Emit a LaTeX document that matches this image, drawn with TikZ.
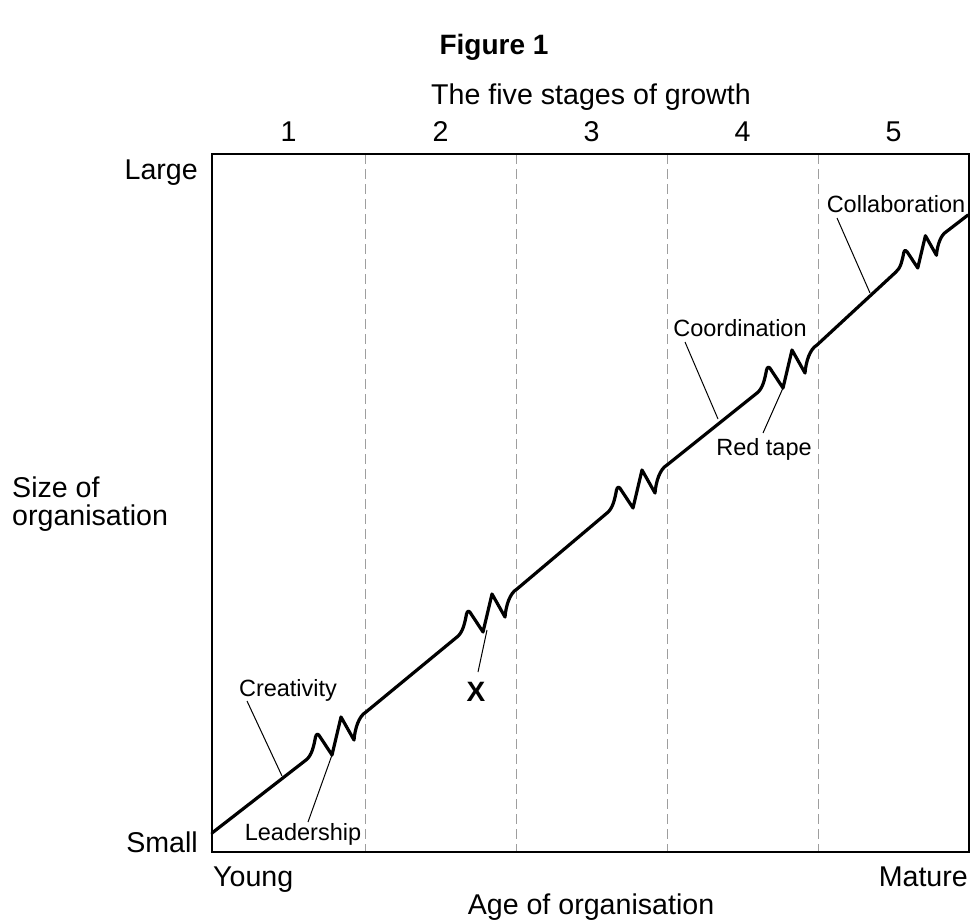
\documentclass[tikz,border=0pt]{standalone}
\usepackage{fontspec}
\setmainfont{Liberation Sans}
\usetikzlibrary{calc}
\tikzset{
  frame/.style={line width=2.5pt},
  stagediv/.style={line width=1pt, draw=black!38, dash pattern=on 10pt off 5pt},
  growth/.style={line width=3.2pt, line cap=round, line join=round},
  leader/.style={line width=1pt},
  big/.style={font=\fontsize{28.6}{32}\selectfont, inner sep=0pt},
  small/.style={font=\fontsize{23.5}{27}\selectfont, inner sep=0pt},
}
\newcommand\zigstage[4]{%
  \begin{scope}[shift={(#1,#2)},scale=#3]
    \coordinate (c#4) at (-11,25);
    \coordinate (v#4) at (15,20);
    \coordinate (h#4) at (49,-23);
    \draw[growth] (-11,25) .. controls (-5,20.5) and (-3,10) .. (-1.5,2)
      .. controls (-0.5,-1.5) and (1,-1.5) .. (2.5,1) -- (15,20) -- (24,-18) -- (37,5)
      .. controls (38,-7) and (42,-19) .. (49,-23);
  \end{scope}}
\begin{document}
\begin{tikzpicture}[x=1pt,y=-1pt]
\useasboundingbox (0,0) rectangle (974,923);
% stage dividers
\foreach \xx/\nm in {365/d1,516/d2,667/d3,818/d4}{
  \coordinate (\nm t) at (\xx,154);
  \coordinate (\nm b) at (\xx,852);
  \draw[stagediv] (\nm t) -- (\nm b);
}
% frame
\draw[frame] (212,154) rectangle (969,852);
% titles
\node[big, anchor=base, font=\fontsize{28}{32}\selectfont\bfseries] (fig) at (494,55) {Figure 1};
\node[big, anchor=base] (stages) at (591,105) {The five stages of growth};
\foreach \n/\xx in {1/288.5,2/440.5,3/591.5,4/742.5,5/893.5}{
  \node[big, anchor=base] (s\n) at (\xx,142) {\n};
}
\node[big, anchor=base east] (large) at (198,179) {Large};
\node[big, anchor=base east] (smallL) at (198,852) {Small};
\node[big, anchor=base west] (size1) at (12,497) {Size of};
\node[big, anchor=base west] (size2) at (12,525) {organisation};
\node[big, anchor=base west] (young) at (213,886) {Young};
\node[big, anchor=base east] (mature) at (968,886) {Mature};
\node[big, anchor=base] (age) at (591,914) {Age of organisation};
% growth curve
\coordinate (start) at (212,833);
\coordinate (finish) at (968,215);
\zigstage{317}{735}{1}{1}
\zigstage{468}{612}{1}{2}
\zigstage{618}{488}{1}{3}
\zigstage{768}{368}{1}{4}
\zigstage{905}{251}{0.85}{5}
\draw[growth] (start) -- (c1);
\draw[growth] (h1) -- (c2);
\draw[growth] (h2) -- (c3);
\draw[growth] (h3) -- (c4);
\draw[growth] (h4) -- (c5);
\draw[growth] (h5) -- (finish);
% labels
\node[small, anchor=base] (creat) at (288,696) {Creativity};
\node[small, anchor=base] (lead) at (303,840) {Leadership};
\node[big, anchor=base, font=\fontsize{28}{32}\selectfont\bfseries] (xlab) at (476,701) {X};
\node[small, anchor=base] (coord) at (740,336) {Coordination};
\node[small, anchor=base] (red) at (764,455) {Red tape};
\node[small, anchor=base] (collab) at (896,212) {Collaboration};
\coordinate (creatA) at (247,701);
\coordinate (creatB) at (282,776);
\coordinate (leadA) at (308,822);
\coordinate (xA) at (478,672);
\coordinate (xB) at (487,630);
\coordinate (coordA) at (685,342);
\coordinate (coordB) at (718,419);
\coordinate (redA) at (763,433);
\coordinate (collA) at (837,218);
\coordinate (collB) at (870,293);
\draw[leader] (creatA) -- (creatB);
\draw[leader] (leadA) -- (v1);
\draw[leader] (xA) -- (xB);
\draw[leader] (coordA) -- (coordB);
\draw[leader] (redA) -- (v4);
\draw[leader] (collA) -- (collB);
\end{tikzpicture}
\end{document}
